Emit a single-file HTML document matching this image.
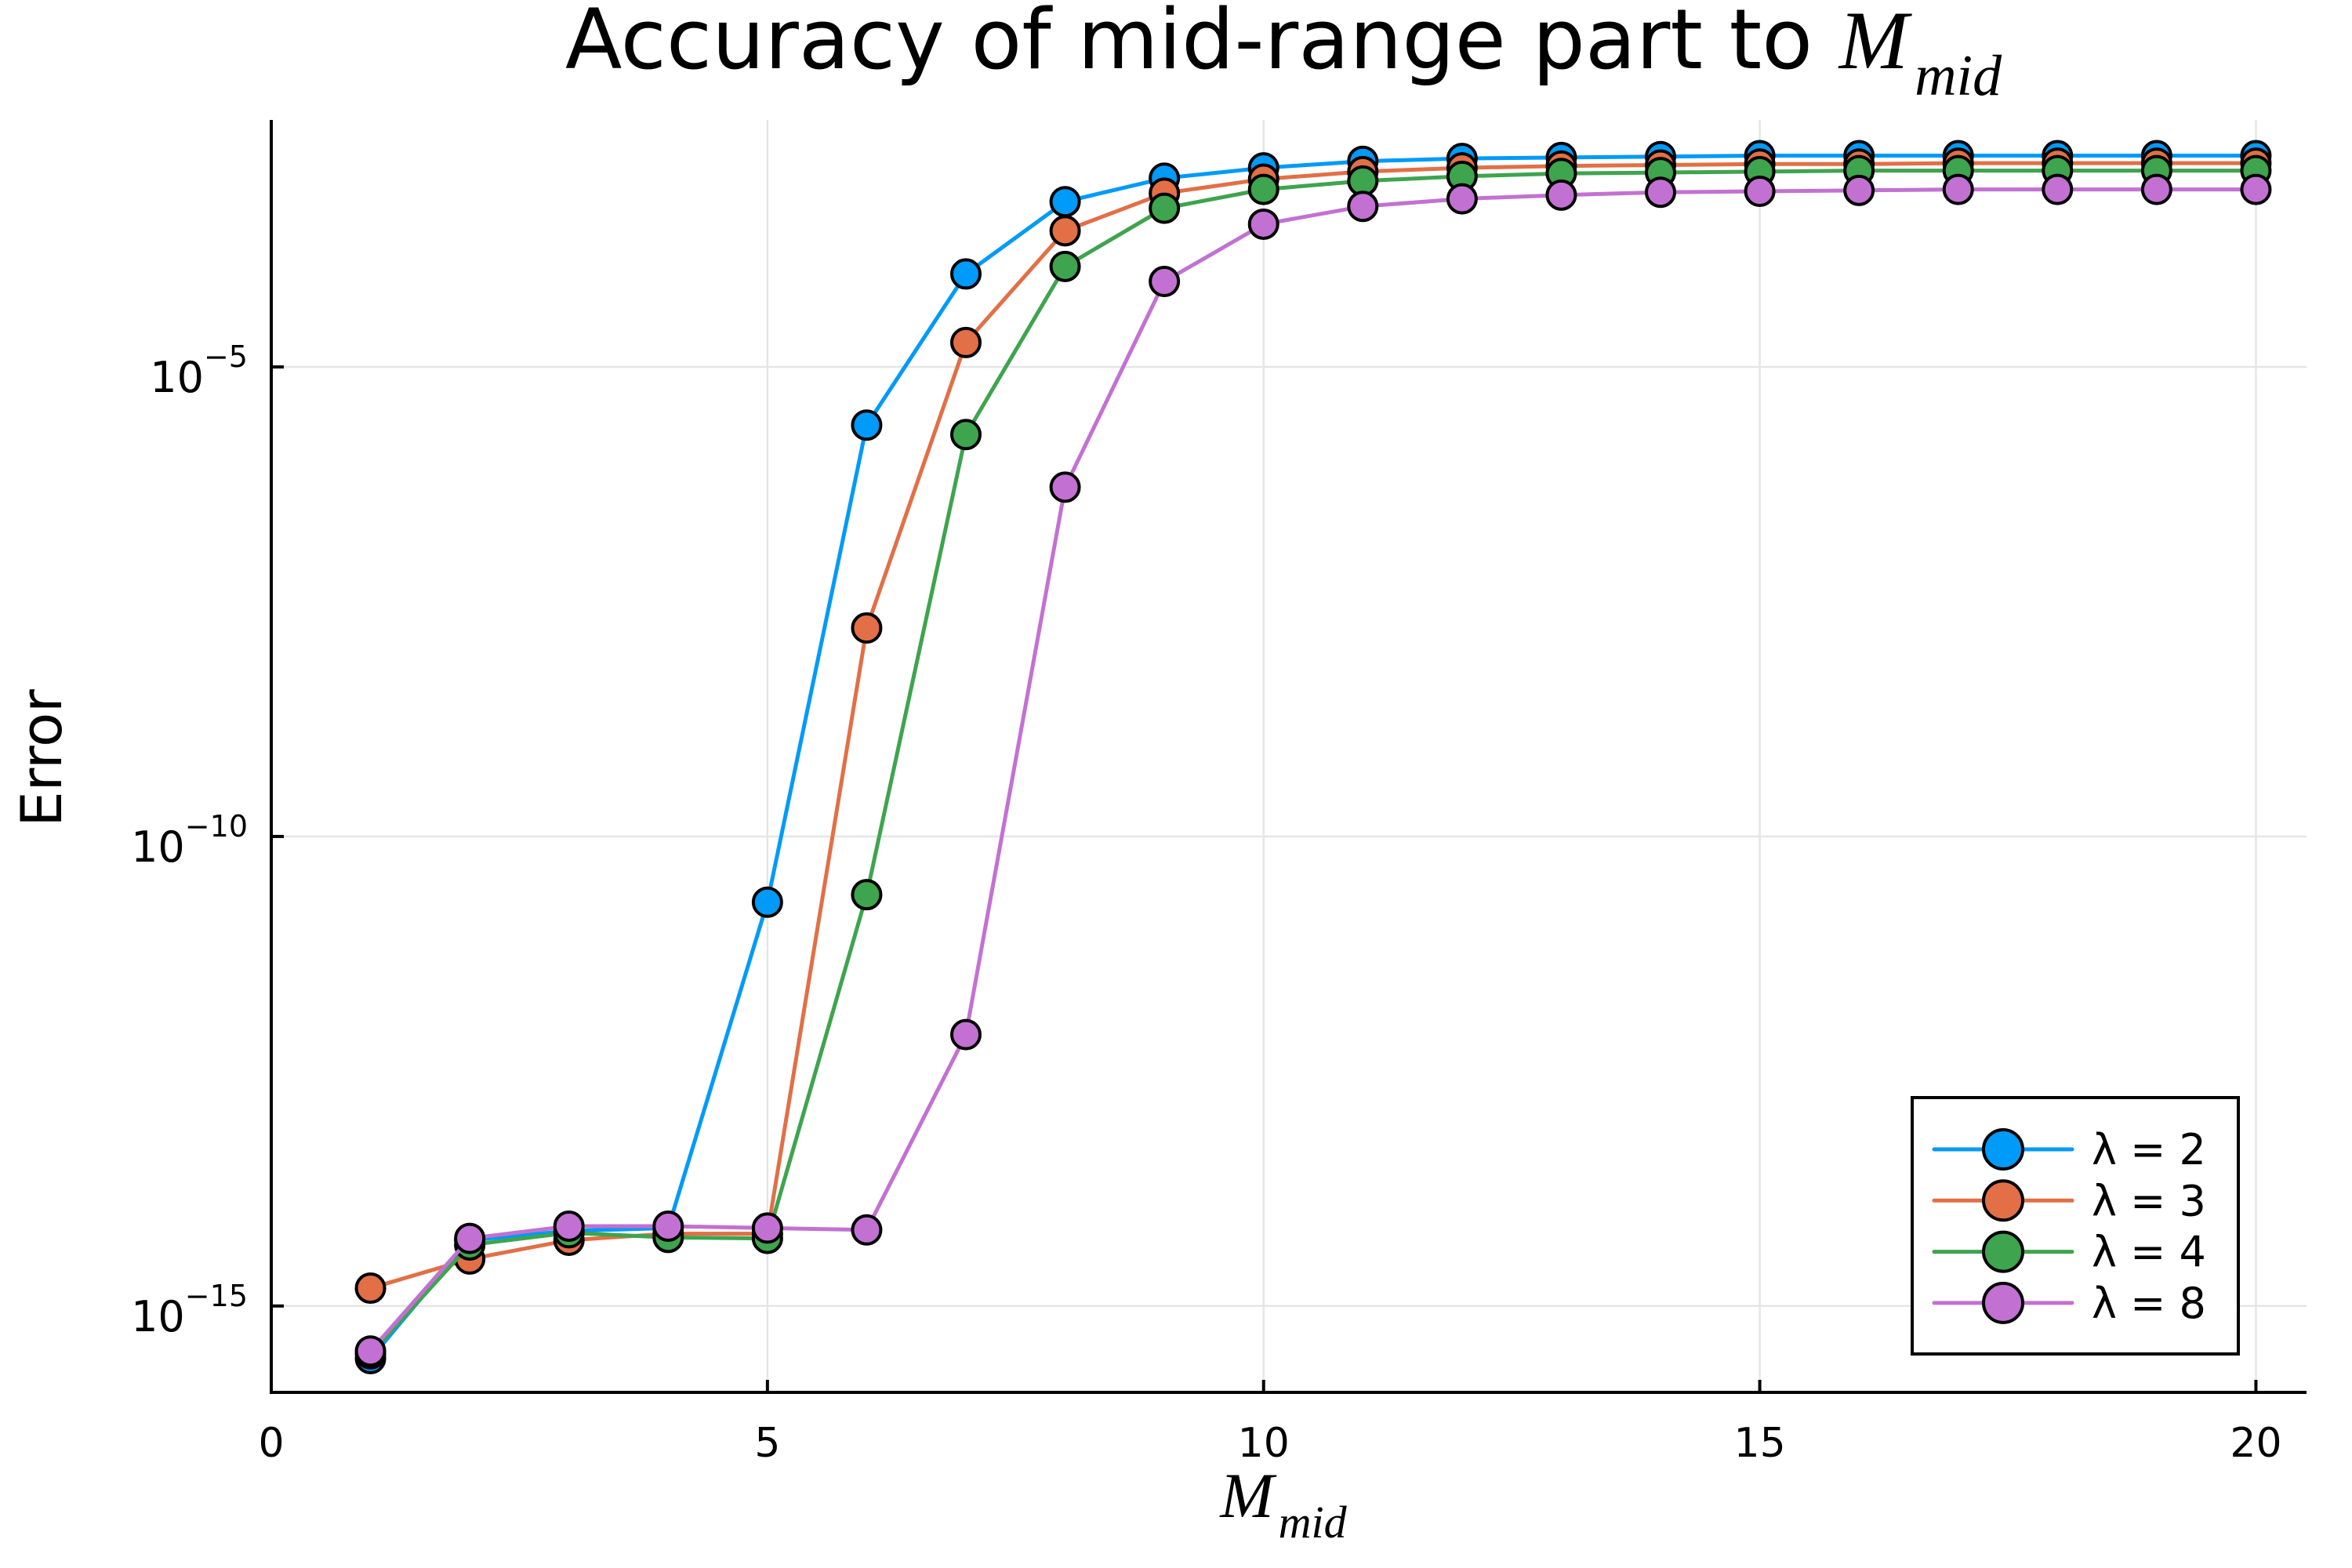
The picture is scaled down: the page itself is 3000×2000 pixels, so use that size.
<!DOCTYPE html>
<html><head><meta charset="utf-8"><style>
html,body{margin:0;padding:0;background:#fff;}
svg{display:block;font-family:"DejaVu Sans","Liberation Sans",sans-serif;}
</style></head><body>
<svg id="chart" width="3000" height="2000" viewBox="0 0 3000 2000" xmlns="http://www.w3.org/2000/svg">
<rect width="3000" height="2000" fill="#fff"/>
<g id="grid"></g>
<g id="series"></g>
<g id="axes"></g>
<text x="1637" y="87" text-anchor="middle" font-size="106">Accuracy of mid-range part to <tspan font-family="Liberation Serif,serif" font-style="italic" font-size="106">M</tspan><tspan font-family="Liberation Serif,serif" font-style="italic" font-size="74" dy="34" dx="8">mid</tspan></text>
<text x="1637" y="1935" text-anchor="middle" font-family="Liberation Serif,serif" font-style="italic" font-size="82">M<tspan font-size="58" dy="26" dx="6">mid</tspan></text>
<text x="0" y="0" transform="translate(78,967) rotate(-90)" text-anchor="middle" font-size="72">Error</text>
<g id="legend"></g>
</svg>
<script>
const xValues=[1,2,3,4,5,6,7,8,9,10,11,12,13,14,15,16,17,18,19,20];
const seriesLabels=["λ = 2","λ = 3","λ = 4","λ = 8"];
const seriesColors=["#009af9","#e26f46","#3ea44e","#c271d2"];
const logLam2=[-15.56,-14.30,-14.20,-14.17,-10.70,-5.62,-4.01,-3.24,-2.99,-2.88,-2.81,-2.78,-2.77,-2.76,-2.75,-2.75,-2.75,-2.75,-2.75,-2.75];
const logLam3=[-14.81,-14.50,-14.30,-14.23,-14.23,-7.78,-4.74,-3.55,-3.15,-3.00,-2.92,-2.88,-2.86,-2.85,-2.84,-2.84,-2.83,-2.83,-2.83,-2.83];
const logLam4=[-15.51,-14.35,-14.22,-14.27,-14.28,-10.62,-5.72,-3.93,-3.31,-3.11,-3.02,-2.97,-2.94,-2.93,-2.92,-2.91,-2.91,-2.91,-2.91,-2.91];
const logLam8=[-15.48,-14.28,-14.15,-14.15,-14.17,-14.19,-12.11,-6.28,-4.09,-3.48,-3.29,-3.21,-3.17,-3.14,-3.13,-3.12,-3.11,-3.11,-3.11,-3.11];
const xTicks=[0,5,10,15,20];
const yTickExps=[-5,-10,-15];

const NS="http://www.w3.org/2000/svg";
const L=346,R=2942,T=153,B=1776;
const xMin=0,xMax=20.51,yMin=-15.92,yMax=-2.37;
function sx(v){return L+(v-xMin)/(xMax-xMin)*(R-L);}
function sy(v){return B-(v-yMin)/(yMax-yMin)*(B-T);}
function mk(tag,attrs,parent){const e=document.createElementNS(NS,tag);for(const k in attrs)e.setAttribute(k,attrs[k]);parent.appendChild(e);return e;}
const grid=document.getElementById('grid'),axes=document.getElementById('axes'),ser=document.getElementById('series'),leg=document.getElementById('legend');

xTicks.forEach(t=>{
  const g=mk('line',{x1:sx(t),x2:sx(t),y1:T,y2:B,stroke:'#e6e6e6','stroke-width':2.5},grid);
  
  
  const tk=mk('line',{x1:sx(t),x2:sx(t),y1:B,y2:B-16,stroke:'#000','stroke-width':4},axes);
  
  
  const lb=mk('text',{x:sx(t),y:B+82,'text-anchor':'middle','font-size':52},axes);
  lb.textContent=String(t);
  
  
});
yTickExps.forEach(e=>{
  const g=mk('line',{x1:L,x2:R,y1:sy(e),y2:sy(e),stroke:'#e6e6e6','stroke-width':2.5},grid);
  
  
  const tk=mk('line',{x1:L,x2:L+16,y1:sy(e),y2:sy(e),stroke:'#000','stroke-width':4},axes);
  
  
  const lb=mk('text',{x:L-30,y:sy(e)+32,'text-anchor':'end','font-size':54},axes);
  lb.innerHTML='10<tspan font-size="38" dy="-32">−'+Math.abs(e)+'</tspan>';
  
  
});
const ax1=mk('line',{x1:L,x2:L,y1:T,y2:B+2,stroke:'#000','stroke-width':4},axes);


const ax2=mk('line',{x1:L-2,x2:R,y1:B,y2:B,stroke:'#000','stroke-width':4},axes);



const allSeries=[logLam2,logLam3,logLam4,logLam8];
allSeries.forEach((vals,i)=>{
  const g=mk('g',{},ser);
  
  
  const pts=vals.map((v,j)=>sx(xValues[j])+','+sy(v)).join(' ');
  const pl=mk('polyline',{points:pts,fill:'none',stroke:seriesColors[i],'stroke-width':5,'stroke-linejoin':'round'},g);
  
  
  vals.forEach((v,j)=>{
    const c=mk('circle',{cx:sx(xValues[j]),cy:sy(v),r:18,fill:seriesColors[i],stroke:'#000','stroke-width':4},g);
    
    
  });
});

const box=mk('rect',{x:2439,y:1400,width:416,height:327,fill:'#fff',stroke:'#000','stroke-width':4},leg);


seriesLabels.forEach((lab,i)=>{
  const y=1466+i*65.3;
  const g=mk('g',{},leg);
  
  
  mk('line',{x1:2467,x2:2643,y1:y,y2:y,stroke:seriesColors[i],'stroke-width':5,'stroke-linecap':'round'},g);
  mk('circle',{cx:2555,cy:y,r:25,fill:seriesColors[i],stroke:'#000','stroke-width':4},g);
  const t=mk('text',{x:2668,y:y+19,'font-size':54},g);
  t.textContent=lab;
});
</script>
</body></html>
